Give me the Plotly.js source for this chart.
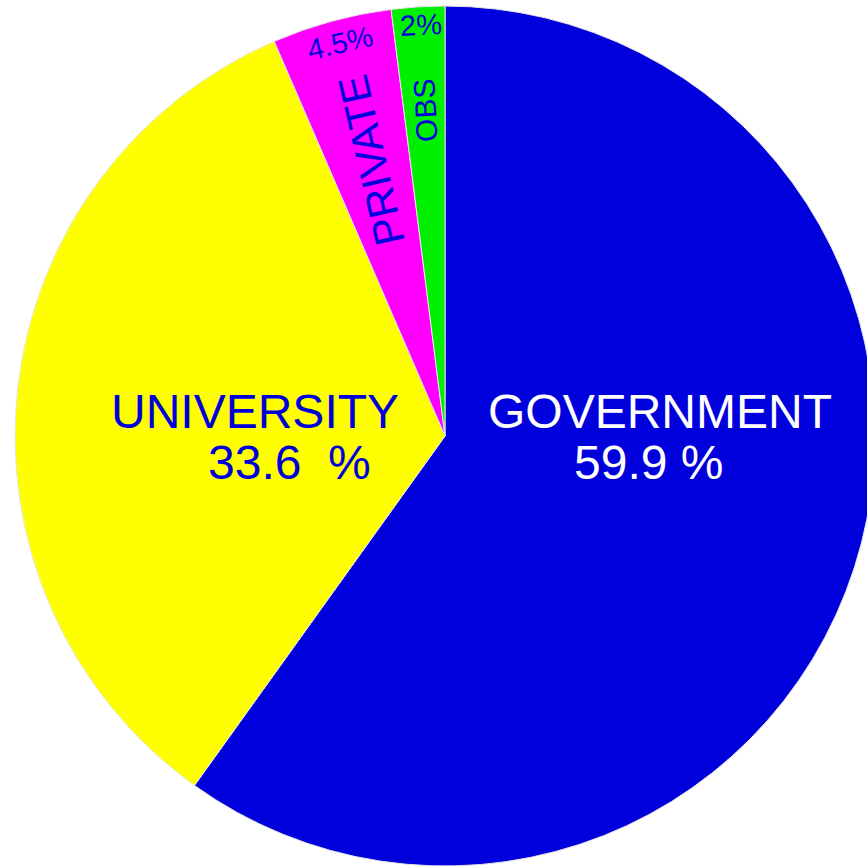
<!DOCTYPE html>
<html>
<head>
<meta charset="utf-8">
<script src="https://cdn.plot.ly/plotly-3.0.1.min.js"></script>
<style>
html,body{margin:0;padding:0;overflow:hidden;background:#fff;width:867px;height:866px;}
#chart{width:880px;height:866px;}
</style>
</head>
<body>
<div id="chart"></div>
<script>
// ---- data ----
const categories = ['GOVERNMENT', 'UNIVERSITY', 'PRIVATE', 'OBS'];
const values = [59.9, 33.6, 4.5, 2.0];
const pctLabels = ['59.9 %', '33.6\u00a0\u00a0%', '4.5%', '2%'];
const sliceColors = ['#0000DC', '#FFFF00', '#FF00FF', '#00F000'];

// ---- layout helpers ----
const W = 880, H = 866;
const px = x => x / W;
const py = y => 1 - y / H;
const FONT = 'Liberation Sans, Arial, Helvetica, sans-serif';
const BLUE = '#0000DC';

const trace = {
  type: 'pie',
  labels: categories,
  values: values,
  sort: false,
  direction: 'clockwise',
  rotation: 0,
  textinfo: 'none',
  hoverinfo: 'none',
  showlegend: false,
  marker: {colors: sliceColors, line: {color: '#e6e6e6', width: 1}},
  domain: {x: [15 / W, 875 / W], y: [0, 860 / H]},
  automargin: false
};

function ann(text, x, y, size, color, angle) {
  return {
    text: text, x: px(x), y: py(y), xref: 'paper', yref: 'paper',
    xanchor: 'center', yanchor: 'middle', showarrow: false,
    textangle: angle || 0,
    font: {family: FONT, size: size, color: color}
  };
}

const annotations = [
  ann(categories[0], 660, 412, 48, '#FFFFFF'),
  ann(pctLabels[0], 648, 462, 48, '#FFFFFF'),
  ann(categories[1], 255, 412, 48, BLUE),
  ann(pctLabels[1], 289, 462, 48, BLUE),
  ann(categories[2], 371, 161, 42, BLUE, -103),
  ann(pctLabels[2], 340, 43, 29, BLUE, -13),
  ann(categories[3], 425, 111, 30, BLUE, -93),
  ann(pctLabels[3], 421, 25, 29, BLUE, -3)
];

const layout = {
  width: W, height: H,
  margin: {l: 0, r: 0, t: 0, b: 0, pad: 0},
  paper_bgcolor: '#ffffff',
  plot_bgcolor: '#ffffff',
  annotations: annotations,
  showlegend: false
};

Plotly.newPlot('chart', [trace], layout, {displayModeBar: false, staticPlot: true});
</script>
</body>
</html>
